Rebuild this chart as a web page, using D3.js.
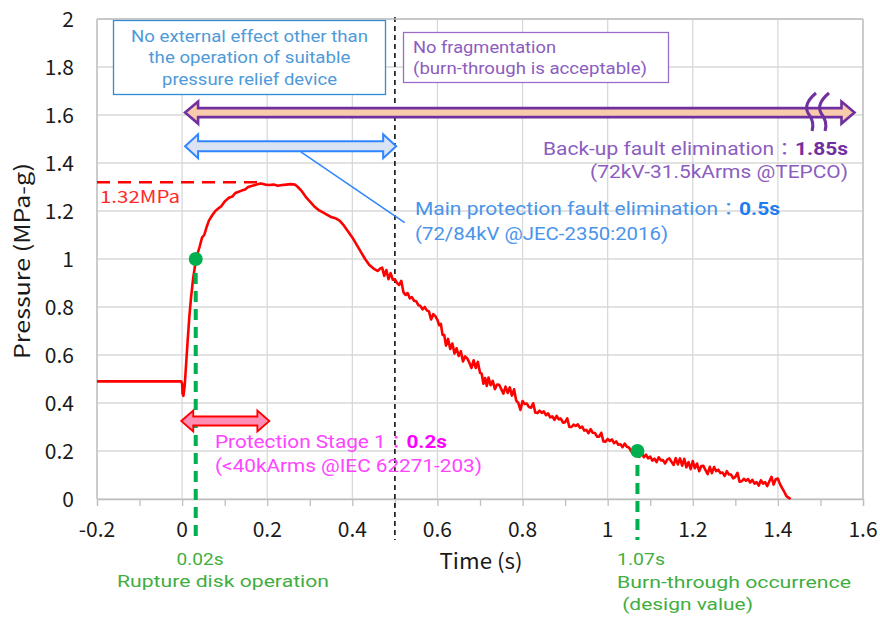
<!DOCTYPE html>
<html><head><meta charset="utf-8">
<script src="https://cdn.jsdelivr.net/npm/d3@7"></script>
<style>body{margin:0;background:#fff}svg{display:block}</style>
</head><body>
<svg id="c" width="880" height="621"></svg>
<script>
// ---------------- DATA ----------------
const xTicks = [-0.2, 0, 0.2, 0.4, 0.6, 0.8, 1, 1.2, 1.4, 1.6];
const xTickLabels = ["-0.2", "0", "0.2", "0.4", "0.6", "0.8", "1", "1.2", "1.4", "1.6"];
const yTicks = [0, 0.2, 0.4, 0.6, 0.8, 1, 1.2, 1.4, 1.6, 1.8, 2];
const yTickLabels = ["0", "0.2", "0.4", "0.6", "0.8", "1", "1.2", "1.4", "1.6", "1.8", "2"];
const pressureTime = [-0.2,-0.1,-0.002,0,0.001,0.003,0.006,0.009,0.013,0.017,0.021,0.026,0.031,0.036,0.041,0.047,0.052,0.057,0.063,0.07,0.078,0.085,0.092,0.1,0.11,0.118,0.125,0.133,0.14,0.148,0.155,0.165,0.175,0.185,0.195,0.205,0.215,0.225,0.235,0.245,0.255,0.265,0.272,0.28,0.29,0.3,0.31,0.32,0.33,0.34,0.35,0.36,0.37,0.38,0.39,0.4,0.41,0.42,0.43,0.44,0.45,0.455,0.46,0.465,
0.47,0.475,0.48,0.485,0.49,0.495,0.5,0.505,0.51,0.515,0.52,0.525,0.53,0.535,0.54,0.545,0.55,0.555,0.56,0.565,0.57,0.575,0.58,0.585,0.59,0.595,0.6,0.604,0.608,0.612,0.616,0.62,0.625,0.63,0.635,0.64,0.645,0.65,0.655,0.66,0.665,0.67,0.675,0.68,0.685,0.69,0.695,0.7,0.704,0.708,0.712,0.716,0.72,0.725,0.73,0.735,0.74,0.745,0.75,0.755,0.76,0.765,0.77,0.775,0.78,0.785,0.79,0.795,0.8,0.805,0.81,0.815,0.82,0.825,0.83,0.835,0.84,0.845,0.85,0.855,0.86,0.865,0.87,0.875,0.88,0.885,0.89,0.895,0.9,0.905,0.91,0.915,0.92,0.925,0.93,0.935,0.94,0.945,0.95,0.955,0.96,0.965,0.97,0.975,0.98,0.985,0.99,0.995,1.0,1.005,1.01,1.015,1.02,1.025,1.03,1.035,1.04,1.045,1.05,1.055,1.06,1.065,1.07,1.075,1.08,1.085,1.09,1.095,1.1,1.105,1.11,1.115,1.12,1.125,1.13,1.135,1.14,1.145,1.15,1.155,1.16,1.165,1.17,1.175,1.18,1.185,1.19,1.195,1.2,1.205,1.21,1.215,1.22,1.225,1.23,1.235,1.24,1.245,1.25,1.255,1.26,1.265,1.27,1.275,1.28,1.285,1.29,1.295,1.3,1.305,1.31,1.315,1.32,1.325,1.33,1.335,1.34,1.345,1.35,1.355,1.36,1.365,1.37,1.375,1.38,1.385,1.39,1.395,1.4,1.405,1.41,1.415,1.42,1.425,1.43];
const pressureValue = [0.49,0.49,0.49,0.48,0.44,0.43,0.47,0.55,0.66,0.76,0.84,0.92,0.98,1.02,1.05,1.09,1.10,1.13,1.16,1.18,1.20,1.21,1.22,1.24,1.255,1.26,1.275,1.28,1.285,1.29,1.30,1.305,1.31,1.315,1.31,1.308,1.31,1.305,1.308,1.31,1.312,1.31,1.30,1.285,1.26,1.24,1.22,1.205,1.195,1.185,1.175,1.17,1.16,1.14,1.115,1.09,1.06,1.03,1.0,0.975,0.96,0.955,0.95,0.96,
0.964,0.930,0.954,0.916,0.941,0.914,0.915,0.900,0.892,0.909,0.862,0.850,0.858,0.836,0.841,0.826,0.824,0.808,0.804,0.790,0.800,0.786,0.782,0.748,0.770,0.762,0.746,0.724,0.730,0.684,0.683,0.639,0.667,0.625,0.648,0.606,0.628,0.596,0.616,0.573,0.594,0.586,0.568,0.546,0.578,0.546,0.571,0.526,0.522,0.480,0.504,0.471,0.506,0.474,0.492,0.458,0.477,0.476,0.458,0.439,0.468,0.442,0.465,0.431,0.457,0.410,0.401,0.371,0.408,0.396,0.398,0.383,0.380,0.399,0.360,0.358,0.368,0.359,0.365,0.349,0.357,0.340,0.344,0.330,0.346,0.332,0.335,0.318,0.320,0.336,0.300,0.300,0.310,0.304,0.311,0.296,0.302,0.285,0.288,0.274,0.291,0.276,0.275,0.260,0.260,0.276,0.240,0.239,0.250,0.242,0.248,0.233,0.240,0.226,0.228,0.216,0.231,0.218,0.215,0.198,0.198,0.216,0.188,0.176,0.193,0.174,0.185,0.169,0.177,0.160,0.168,0.154,0.174,0.161,0.162,0.148,0.164,0.169,0.155,0.142,0.170,0.144,0.169,0.139,0.167,0.132,0.154,0.124,0.158,0.128,0.148,0.116,0.137,0.138,0.120,0.104,0.134,0.108,0.133,0.116,0.122,0.108,0.110,0.096,0.116,0.102,0.102,0.086,0.092,0.109,0.072,0.074,0.084,0.076,0.083,0.069,0.080,0.064,0.070,0.056,0.078,0.064,0.070,0.054,0.074,0.092,0.060,0.082,0.085,0.062,0.045,0.03,0.012,0.006,0.0];
const peakPressure = 1.32;
const peakLabel = "1.32MPa";
const eventTimes = [0.032, 1.07];        // green markers (as drawn)
const eventPressures = [1.0, 0.2];
const eventLabels = [["0.02s", "Rupture disk operation"], ["1.07s", "Burn-through occurrence", " (design value)"]];
const mainProtectionTime = 0.5;
const arrowStart = [0.007, 0.007, -0.002];
const arrowEnd = [1.58, 0.503, 0.205];
const arrowLevel = [1.61, 1.47, 0.325];

// ---------------- CHART ----------------
const svg = d3.select("#c");
svg.append("rect").attr("width", 880).attr("height", 621).attr("fill", "#fff");
const x = d3.scaleLinear().domain([-0.2, 1.6]).range([97, 863]);
const y = d3.scaleLinear().domain([0, 2]).range([499, 19]);
const F = "'Noto Sans CJK JP','Noto Sans',sans-serif";
const FA = "Roboto,'Noto Sans CJK JP',sans-serif";   // annotation font (tight line metrics)

// grid
const grid = svg.append("g");
grid.selectAll(".vg").data(xTicks).join("line")
  .attr("x1", d => x(d)).attr("x2", d => x(d)).attr("y1", y(0)).attr("y2", y(2))
  .attr("stroke", "#d9d9d9").attr("stroke-width", 1.3);
grid.selectAll(".hg").data(yTicks).join("line")
  .attr("x1", x(-0.2)).attr("x2", x(1.6)).attr("y1", d => y(d)).attr("y2", d => y(d))
  .attr("stroke", "#d9d9d9").attr("stroke-width", 1.3);
svg.append("line").attr("x1", x(-0.2)).attr("x2", x(-0.2)).attr("y1", y(0)).attr("y2", y(2)).attr("stroke", "#bfbfbf").attr("stroke-width", 1.3);

// x axis
const xAxis = d3.axisBottom(x).tickValues(d3.range(-0.2, 1.61, 0.1)).tickSize(7).tickFormat("");
const gx = svg.append("g").attr("transform", `translate(0,${y(0)})`).call(xAxis);
gx.select(".domain").attr("stroke", "#bfbfbf").attr("stroke-width", 1.3);
gx.selectAll(".tick line").attr("stroke", "#bfbfbf").attr("stroke-width", 1.3);
svg.append("g").selectAll("text").data(xTicks).join("text")
  .attr("x", d => x(d)).attr("y", 537).attr("text-anchor", "middle")
  .attr("font-family", F).attr("font-size", 21).attr("fill", "#1a1a1a")
  .text((d, i) => xTickLabels[i]);
// y labels
svg.append("g").selectAll("text").data(yTicks).join("text")
  .attr("x", 74).attr("y", d => y(d) + 7.5).attr("text-anchor", "end")
  .attr("font-family", F).attr("font-size", 21).attr("fill", "#1a1a1a")
  .text((d, i) => yTickLabels[i]);

// axis titles
svg.append("text").attr("transform", "translate(30,261) rotate(-90)").attr("text-anchor", "middle")
  .attr("font-family", F).attr("font-size", 21).attr("fill", "#1a1a1a")
  .attr("textLength", 196).attr("lengthAdjust", "spacingAndGlyphs").text("Pressure (MPa-g)");
svg.append("text").attr("x", 481).attr("y", 569).attr("text-anchor", "middle")
  .attr("font-family", F).attr("font-size", 21).attr("fill", "#1a1a1a")
  .attr("textLength", 83).attr("lengthAdjust", "spacingAndGlyphs").text("Time (s)");

// black dashed vertical at 0.5s
svg.append("line").attr("x1", x(mainProtectionTime)).attr("x2", x(mainProtectionTime))
  .attr("y1", 17).attr("y2", 540).attr("stroke", "#111").attr("stroke-width", 1.6).attr("stroke-dasharray", "5,4");

// peak dashed line
svg.append("line").attr("x1", x(-0.2)).attr("x2", x(0.185)).attr("y1", y(peakPressure)).attr("y2", y(peakPressure))
  .attr("stroke", "#ff0000").attr("stroke-width", 2.6).attr("stroke-dasharray", "13,8");
svg.append("text").attr("x", 100).attr("y", 203).attr("font-family", F).attr("font-size", 17)
  .attr("fill", "#ff2a2a").attr("textLength", 80).attr("lengthAdjust", "spacingAndGlyphs").text(peakLabel);

// curve
const pts = pressureTime.map((t, i) => [t, pressureValue[i]]);
svg.append("path").datum(pts).attr("fill", "none").attr("stroke", "#ff0000").attr("stroke-width", 2.6)
  .attr("stroke-linejoin", "round")
  .attr("d", d3.line().x(d => x(d[0])).y(d => y(d[1])));

// green event markers
eventTimes.forEach((t, i) => {
  svg.append("line").attr("x1", x(t)).attr("x2", x(t)).attr("y1", y(eventPressures[i]) + 14).attr("y2", 540)
    .attr("stroke", "#00b050").attr("stroke-width", 4).attr("stroke-dasharray", "11,7");
  svg.append("circle").attr("cx", x(t)).attr("cy", y(eventPressures[i])).attr("r", 7).attr("fill", "#00b050");
});

// multi-line text block: one <text>, one <tspan> per line
// lines: [x, y, anchor, [plain, bold], textLength]
function block(lines, color, boldColor, size) {
  const t = svg.append("text").attr("font-family", FA).attr("font-size", size).attr("fill", color)
    .attr("xml:space", "preserve").style("white-space", "pre");
  lines.forEach(l => {
    const ln = t.append("tspan").attr("x", l[0]).attr("y", l[1]).attr("text-anchor", l[2])
      .attr("textLength", l[4]).attr("lengthAdjust", "spacingAndGlyphs");
    ln.append("tspan").text(l[3][0]);
    if (l[3][1]) ln.append("tspan").attr("font-weight", "bold").attr("fill", boldColor).text(l[3][1]);
  });
  return t;
}
const G = "#3fae3f";
block([[200, 565, "middle", [eventLabels[0][0]], 47], [223, 587, "middle", [eventLabels[0][1]], 212]], G, null, 17);
block([[617, 565, "start", [eventLabels[1][0]], 48], [617, 588, "start", [eventLabels[1][1]], 234],
       [617, 610, "start", [eventLabels[1][2]], 136]], G, null, 17);

// double arrows
function dbl(x0, x1, yc, sh, hh, hl) {
  return `M${x0},${yc} L${x0+hl},${yc-hh/2} L${x0+hl},${yc-sh/2} L${x1-hl},${yc-sh/2} L${x1-hl},${yc-hh/2} L${x1},${yc} L${x1-hl},${yc+hh/2} L${x1-hl},${yc+sh/2} L${x0+hl},${yc+sh/2} L${x0+hl},${yc+hh/2} Z`;
}
const arrowStyle = [
  {fill: "#f8cbad", stroke: "#7030a0", sh: 9, hh: 22, hl: 13, sw: 2.6},
  {fill: "#dae3f3", stroke: "#2f86ff", sh: 10, hh: 24, hl: 13, sw: 2},
  {fill: "#ff8fb4", stroke: "#ff0000", sh: 9, hh: 21, hl: 12, sw: 1.8}
];
arrowStart.forEach((s, i) => {
  const st = arrowStyle[i];
  svg.append("path").attr("d", dbl(x(s), x(arrowEnd[i]), y(arrowLevel[i]), st.sh, st.hh, st.hl))
    .attr("fill", st.fill).attr("stroke", st.stroke).attr("stroke-width", st.sw).attr("stroke-linejoin", "miter");
});
// break marks on the long arrow
[811, 824].forEach(bx => {
  svg.append("path").attr("d", `M${bx+5},93 Q${bx-8},104 ${bx-3},113 Q${bx+4},122 ${bx+1},131`)
    .attr("fill", "none").attr("stroke", "#7030a0").attr("stroke-width", 3);
});

// leader line
svg.append("line").attr("x1", x(0.279)).attr("y1", y(1.446)).attr("x2", x(0.523)).attr("y2", y(1.152))
  .attr("stroke", "#2f86ff").attr("stroke-width", 1.5);

// boxes
svg.append("rect").attr("x", 113.5).attr("y", 20.5).attr("width", 272).attr("height", 74)
  .attr("fill", "#fff").attr("stroke", "#2e8bd8").attr("stroke-width", 1.3);
block([[249.5, 41.5, "middle", ["No external effect other than"], 237],
       [249.5, 63, "middle", ["the operation of suitable"], 202],
       [249.5, 84.5, "middle", ["pressure relief device"], 175]], "#4f9ad8", null, 16.5);
svg.append("rect").attr("x", 403.5).attr("y", 32.5).attr("width", 265).attr("height", 50)
  .attr("fill", "#fff").attr("stroke", "#9b6dca").attr("stroke-width", 1.3);
block([[413, 52.5, "start", ["No fragmentation"], 143],
       [413, 73.5, "start", ["(burn-through is acceptable)"], 234]], "#8c5dbf", null, 16.5);

// annotation texts
block([[848, 155, "end", ["Back-up fault elimination：", "1.85s"], 305],
       [848, 178, "end", ["(72kV-31.5kArms @TEPCO)"], 258]], "#8c5dbf", "#7030a0", 17.5);
block([[415, 215, "start", ["Main protection fault elimination：", "0.5s"], 365],
       [415, 240, "start", ["(72/84kV @JEC-2350:2016)"], 253]], "#4a94ea", "#1e7ef0", 17.5);
block([[215, 448, "start", ["Protection Stage 1：", "0.2s"], 232],
       [215, 472, "start", ["(<40kArms @IEC 62271-203)"], 267]], "#ff44ff", "#ff00ff", 17.5);

// frame top/right
svg.append("line").attr("x1", x(-0.2)).attr("x2", x(1.6)).attr("y1", y(2)).attr("y2", y(2)).attr("stroke", "#bfbfbf").attr("stroke-width", 1.3);
svg.append("line").attr("x1", x(1.6)).attr("x2", x(1.6)).attr("y1", y(2)).attr("y2", y(0)).attr("stroke", "#bfbfbf").attr("stroke-width", 1.3);
</script>
</body></html>
